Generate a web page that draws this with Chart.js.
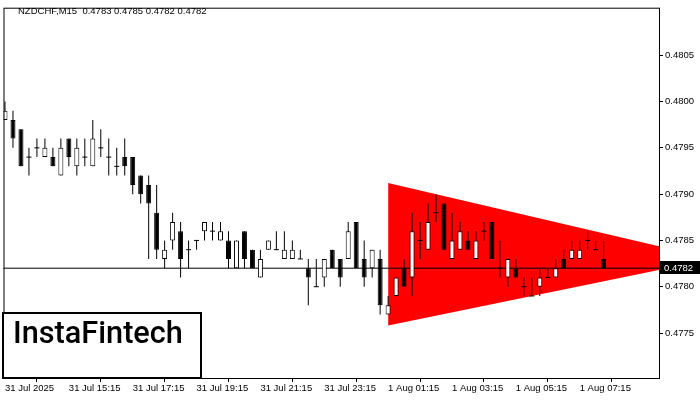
<!DOCTYPE html>
<html>
<head>
<meta charset="utf-8">
<script src="https://cdn.jsdelivr.net/npm/chart.js@4.4.1/dist/chart.umd.min.js"></script>
<style>
  html, body { margin: 0; padding: 0; background: #fff; }
  canvas { display: block; }
</style>
</head>
<body>
<canvas id="chart" width="700" height="400"></canvas>
<script>
// NZDCHF M15, one value per bar
const opens  = [0.4798,0.4798,0.4797,0.4794,0.4795,0.4794,0.4794,0.4792,0.4796,0.4793,
                0.4794,0.4793,0.4795,0.4794,0.4793,0.4794,0.4794,0.4792,0.4791,0.4788,
                0.4783,0.4785,0.4786,0.4784,0.4785,0.4786,0.4786,0.4785,0.4785,0.4782,
                0.4786,0.4784,0.4781,0.4784,0.4784,0.4783,0.4783,0.4783,0.4782,0.4780,
                0.4781,0.4784,0.4783,0.4783,0.4787,0.4783,0.4782,0.4783,0.4777,0.4779,
                0.4782,0.4781,0.4785,0.4784,0.4788,0.4789,0.4783,0.4784,0.4785,0.4783,
                0.4786,0.4787,0.4782,0.4781,0.4782,0.4780,0.4779,0.4780,0.4781,0.4781,
                0.4783,0.4783,0.4783,0.4785,0.4784,0.4783];
const highs  = [0.4800,0.4799,0.4797,0.4795,0.4796,0.4796,0.4795,0.4796,0.4796,0.4796,
                0.4796,0.4798,0.4797,0.4796,0.4795,0.4796,0.4794,0.4792,0.4792,0.4791,
                0.4785,0.4788,0.4787,0.4785,0.4785,0.4787,0.4787,0.4787,0.4786,0.4785,
                0.4786,0.4784,0.4784,0.4785,0.4786,0.4786,0.4785,0.4784,0.4783,0.4783,
                0.4783,0.4784,0.4783,0.4787,0.4787,0.4785,0.4784,0.4784,0.4779,0.4781,
                0.4783,0.4788,0.4787,0.4789,0.4790,0.4789,0.4788,0.4787,0.4786,0.4786,
                0.4787,0.4787,0.4785,0.4783,0.4783,0.4781,0.4781,0.4782,0.4782,0.4783,
                0.4784,0.4785,0.4785,0.4786,0.4785,0.4785];
const lows   = [0.4798,0.4795,0.4793,0.4792,0.4794,0.4794,0.4793,0.4792,0.4793,0.4792,
                0.4793,0.4793,0.4794,0.4792,0.4792,0.4792,0.4790,0.4789,0.4783,0.4783,
                0.4782,0.4784,0.4781,0.4782,0.4784,0.4785,0.4785,0.4785,0.4782,0.4782,
                0.4782,0.4782,0.4781,0.4784,0.4784,0.4783,0.4783,0.4783,0.4778,0.4780,
                0.4780,0.4782,0.4780,0.4783,0.4782,0.4780,0.4781,0.4777,0.4777,0.4779,
                0.4780,0.4779,0.4783,0.4784,0.4787,0.4784,0.4783,0.4784,0.4784,0.4783,
                0.4785,0.4783,0.4781,0.4780,0.4781,0.4779,0.4779,0.4779,0.4781,0.4781,
                0.4782,0.4783,0.4783,0.4784,0.4784,0.4782];
const closes = [0.4799,0.4796,0.4793,0.4794,0.4795,0.4795,0.4793,0.4795,0.4794,0.4795,
                0.4794,0.4796,0.4795,0.4794,0.4793,0.4793,0.4791,0.4790,0.4789,0.4784,
                0.4784,0.4787,0.4783,0.4784,0.4785,0.4787,0.4786,0.4786,0.4783,0.4785,
                0.4783,0.4782,0.4783,0.4785,0.4784,0.4784,0.4784,0.4783,0.4781,0.4780,
                0.4783,0.4782,0.4781,0.4786,0.4782,0.4781,0.4784,0.4778,0.4778,0.4781,
                0.4780,0.4786,0.4785,0.4787,0.4788,0.4784,0.4785,0.4786,0.4784,0.4785,
                0.4786,0.4783,0.4782,0.4783,0.4781,0.4780,0.4779,0.4781,0.4781,0.4782,
                0.4782,0.4784,0.4784,0.4785,0.4784,0.4782];

// one label every 8 bars (2 hours)
const xLabels = ['31 Jul 2025','31 Jul 15:15','31 Jul 17:15','31 Jul 19:15','31 Jul 21:15',
                 '31 Jul 23:15','1 Aug 01:15','1 Aug 03:15','1 Aug 05:15','1 Aug 07:15'];
const yTicks = [0.4775,0.4780,0.4785,0.4790,0.4795,0.4800,0.4805];
const lastPrice = 0.4782;

// bearish symmetrical triangle: two edges meeting at the apex
const triUpper = [{x: 48, y: 0.47912}, {x: 88.7, y: 0.4783}];
const triLower = [{x: 48, y: 0.47758}, {x: 88.7, y: 0.4783}];

const FONT = 'Liberation Sans';
Chart.defaults.font.family = FONT;
Chart.defaults.font.size = 9.5;
Chart.defaults.color = '#000';

const idx = opens.map((_, i) => i);
const wicks = idx.map(i => ({x: i, y: [lows[i], highs[i]]}));
const bodyIdx = idx.filter(i => opens[i] !== closes[i]);
const bodies = bodyIdx.map(i => ({x: i, y: [opens[i], closes[i]]}));
const bodyColors = bodyIdx.map(i => closes[i] > opens[i] ? '#fff' : '#000');
const dojis = idx.filter(i => opens[i] === closes[i]).map(i => ({x: i, y: opens[i]}));

const overlay = {
  id: 'overlay',
  afterDraw(chart) {
    const {ctx, chartArea: a} = chart;
    ctx.save();
    // frame
    ctx.strokeStyle = '#000';
    ctx.lineWidth = 1;
    ctx.strokeRect(a.left + 0.5, a.top + 0.5, a.right - a.left - 1, a.bottom - a.top - 1);

    // header
    ctx.fillStyle = '#000';
    ctx.font = '9.5px "' + FONT + '"';
    ctx.textBaseline = 'alphabetic';
    ctx.fillText('NZDCHF,M15  0.4783 0.4785 0.4782 0.4782', 18, 14);

    // last price tag on the axis
    const py = chart.scales.y.getPixelForValue(lastPrice);
    ctx.fillStyle = '#000';
    ctx.fillRect(a.right, Math.round(py) - 7, 700 - a.right, 13);
    ctx.fillStyle = '#fff';
    ctx.textBaseline = 'middle';
    ctx.fillText(lastPrice.toFixed(4), a.right + 4, py);

    // watermark box
    ctx.fillStyle = '#fff';
    ctx.fillRect(2, 312, 200, 67);
    ctx.lineWidth = 2;
    ctx.strokeStyle = '#000';
    ctx.strokeRect(3, 313, 198, 65);
    ctx.fillStyle = '#000';
    let size = 29;
    ctx.font = '500 ' + size + 'px Roboto';
    const w = ctx.measureText('InstaFintech').width;
    size = size * 170 / w;
    ctx.font = '500 ' + size.toFixed(1) + 'px Roboto';
    ctx.textBaseline = 'alphabetic';
    ctx.fillText('InstaFintech', 13, 343);
    ctx.restore();
  }
};

new Chart(document.getElementById('chart'), {
  type: 'bar',
  data: {
    datasets: [
      {
        type: 'line', data: triUpper, fill: '+1', backgroundColor: '#ff0000',
        borderWidth: 0, pointRadius: 0, order: 6
      },
      {
        type: 'line', data: triLower, fill: false,
        borderWidth: 0, pointRadius: 0, order: 7
      },
      {
        type: 'line', data: [{x: -1, y: lastPrice}, {x: 90, y: lastPrice}],
        borderColor: '#000', borderWidth: 1, pointRadius: 0, fill: false, order: 5
      },
      {
        type: 'bar', data: wicks, backgroundColor: '#000', barThickness: 1,
        grouped: false, borderWidth: 0, inflateAmount: 0, order: 4
      },
      {
        type: 'bar', data: bodies, backgroundColor: bodyColors, borderColor: '#000',
        borderWidth: 1, borderSkipped: false, barThickness: 5,
        grouped: false, inflateAmount: 0, order: 3
      },
      {
        type: 'scatter', data: dojis, showLine: false, pointStyle: 'line',
        pointRadius: 2.5, pointHoverRadius: 2.5, borderColor: '#000', borderWidth: 1, order: 2
      }
    ]
  },
  options: {
    responsive: false,
    animation: false,
    devicePixelRatio: 1,
    layout: {padding: {left: 2, top: 2, right: 0, bottom: 0}},
    plugins: {legend: {display: false}, tooltip: {enabled: false}},
    scales: {
      x: {
        type: 'linear',
        min: -0.1875,
        max: 82.0625,
        offset: false,
        afterFit(s) { s.height = 21; },
        afterBuildTicks(s) { s.ticks = xLabels.map((_, k) => ({value: k * 8})); },
        border: {display: false},
        grid: {drawOnChartArea: false, drawTicks: true, tickLength: 3, color: '#000'},
        ticks: {
          autoSkip: false, maxRotation: 0, align: 'start', padding: 1,
          callback: v => xLabels[Math.round(v / 8)]
        }
      },
      y: {
        type: 'linear',
        position: 'right',
        min: 0.4770032,
        max: 0.4810138,
        afterFit(s) { s.width = 40; },
        afterBuildTicks(s) { s.ticks = yTicks.map(v => ({value: v})); },
        border: {display: false},
        grid: {drawOnChartArea: false, drawTicks: true, tickLength: 3, color: '#000'},
        ticks: {padding: 2, callback: v => v.toFixed(4)}
      }
    }
  },
  plugins: [overlay]
});
</script>
</body>
</html>
